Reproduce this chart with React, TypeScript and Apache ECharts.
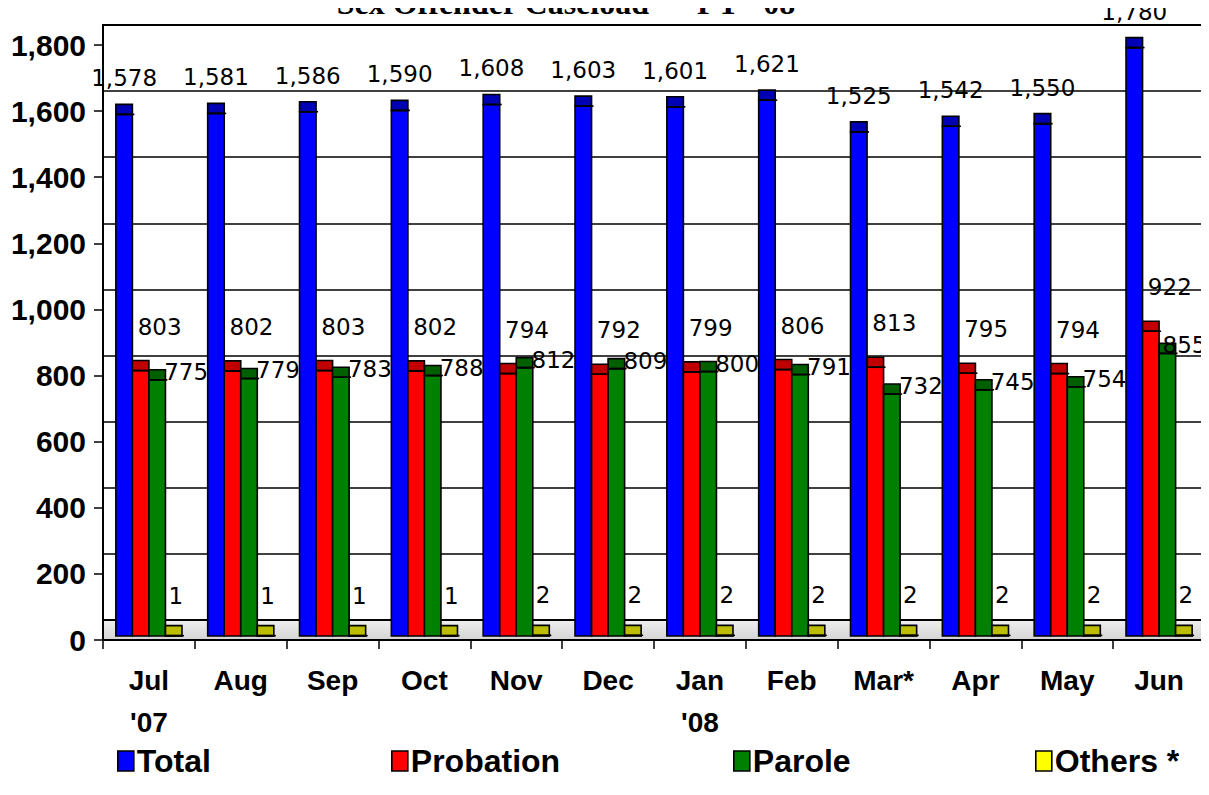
import React, { useEffect, useRef } from "react";
import * as echarts from "echarts";

const months = ["Jul\n'07", "Aug", "Sep", "Oct", "Nov", "Dec", "Jan\n'08", "Feb", "Mar*", "Apr", "May", "Jun"];
const totalVals = [1578, 1581, 1586, 1590, 1608, 1603, 1601, 1621, 1525, 1542, 1550, 1780];
const probationVals = [803, 802, 803, 802, 794, 792, 799, 806, 813, 795, 794, 922];
const paroleVals = [775, 779, 783, 788, 812, 809, 800, 791, 732, 745, 754, 855];
const othersVals = [1, 1, 1, 1, 2, 2, 2, 2, 2, 2, 2, 2];
const yTicks = { min: 0, max: 1800, interval: 200 };

const seriesDefs = [
  { name: "Total", values: totalVals, front: "#0000ff", cap: "#0000b4", legend: "#0000ff", dx: 0, dy: -26 },
  { name: "Probation", values: probationVals, front: "#ff0000", cap: "#c00000", legend: "#ff0000", dx: 19, dy: -34 },
  { name: "Parole", values: paroleVals, front: "#008000", cap: "#006000", legend: "#008000", dx: 29, dy: 2 },
  { name: "Others *", values: othersVals, front: "#ffff00", cap: "#bcbc00", legend: "#ffff00", dx: 2, dy: -30 },
];

const LABEL_FONT = "'DejaVu Sans', Verdana, sans-serif";
const AXIS_FONT = "'Liberation Sans', Arial, sans-serif";

export default function App() {
  const ref = useRef<HTMLDivElement>(null);
  useEffect(() => {
    if (!ref.current) return;
    const chart = echarts.init(ref.current, undefined, { renderer: "svg" });
    const series = seriesDefs.map((s, k) => ({
      type: "custom",
      name: s.name,
      xAxisIndex: 0,
      yAxisIndex: 0,
      itemStyle: { color: s.legend },
      encode: { x: 0, y: 1 },
      data: s.values.map((v, i) => [i, v]),
      z: 5,
      renderItem: (params: any, api: any) => {
        const ci = api.value(0);
        const v = api.value(1);
        const base = api.coord([ci, 0]);
        const top = api.coord([ci, v]);
        const band = api.size([1, 0])[0];
        const w = band * 0.18;
        const x0 = base[0] - 2 * w + k * w;
        const yb = base[1] - 4;
        const yt = top[1] - 4;
        const cap = 10;
        const txt = v.toLocaleString("en-US");
        const halfW = txt.length * 7.5;
        const lx = Math.min(x0 + w / 2 + s.dx, 1207 - halfW);
        return {
          type: "group",
          children: [
            {
              type: "rect",
              shape: { x: x0, y: yt, width: w, height: Math.max(yb - yt, 0) },
              style: { fill: s.front, stroke: "#000", lineWidth: 1.6 },
            },
            {
              type: "rect",
              shape: { x: x0, y: yt - cap, width: w, height: cap },
              style: { fill: s.cap, stroke: "#000", lineWidth: 1.6 },
            },
            {
              type: "line",
              shape: { x1: x0, y1: yt, x2: x0 + w + 2, y2: yt },
              style: { stroke: "#000", lineWidth: 1.6 },
            },
            {
              type: "text",
              x: lx,
              y: yt - cap + s.dy,
              style: {
                text: txt,
                fill: "#000",
                font: `23px ${LABEL_FONT}`,
                textAlign: "center",
                textVerticalAlign: "middle",
              },
            },
          ],
        };
      },
    }));

    const legendLefts = [117, 391, 733, 1035];
    const legends = seriesDefs.map((s, i) => ({
      data: [s.name],
      left: legendLefts[i],
      top: 745,
      padding: 0,
      itemWidth: 16,
      itemHeight: 20,
      itemGap: 3,
      icon: "rect",
      itemStyle: { borderColor: "#000", borderWidth: 1.6 },
      textStyle: { fontFamily: AXIS_FONT, fontWeight: "bold", fontSize: 32, color: "#000", padding: [0, 0, 0, -2] },
      selectedMode: false,
    }));

    chart.setOption({
      animation: false,
      backgroundColor: "#fff",
      graphic: [
        {
          type: "rect",
          shape: { x: 103, y: 621, width: 1102, height: 19 },
          style: {
            fill: new echarts.graphic.LinearGradient(0, 0, 0, 1, [
              { offset: 0, color: "#eeeeee" },
              { offset: 1, color: "#d4d4d4" },
            ]),
          },
          z: 1,
        },
        {
          type: "text",
          x: 566,
          y: 3,
          style: {
            text: "Sex Offender Caseload  –  FY  '08",
            font: "bold 32px 'Liberation Serif', 'Times New Roman', serif",
            fill: "#000",
            textAlign: "center",
            textVerticalAlign: "middle",
          },
          z: 10,
        },
      ],
      legend: legends,
      grid: [
        { left: 103, right: 4, top: 45, bottom: 155, containLabel: false },
        { left: 103, right: 3, top: 25, bottom: 175, show: true, borderColor: "#000", borderWidth: 2, backgroundColor: "transparent" },
      ],
      xAxis: [
        {
          type: "category",
          gridIndex: 0,
          data: months,
          boundaryGap: true,
          axisLine: { show: true, lineStyle: { color: "#000", width: 2 } },
          axisTick: { show: true, alignWithLabel: false, length: 9, lineStyle: { color: "#000", width: 1.5 } },
          axisLabel: {
            color: "#000",
            fontFamily: AXIS_FONT,
            fontWeight: "bold",
            fontSize: 28,
            lineHeight: 42,
            margin: 19,
            interval: 0,
          },
          z: 6,
        },
        { type: "category", gridIndex: 1, data: months, show: false },
      ],
      yAxis: [
        {
          type: "value",
          gridIndex: 0,
          min: yTicks.min,
          max: yTicks.max,
          interval: yTicks.interval,
          axisLine: { show: true, lineStyle: { color: "#000", width: 2 } },
          axisTick: { show: true, length: 9, lineStyle: { color: "#000", width: 1.5 } },
          splitLine: { show: false },
          axisLabel: {
            color: "#000",
            fontFamily: AXIS_FONT,
            fontWeight: "bold",
            fontSize: 30,
            margin: 17,
            formatter: (v: number) => v.toLocaleString("en-US"),
          },
          z: 6,
        },
        {
          type: "value",
          gridIndex: 1,
          min: yTicks.min,
          max: yTicks.max,
          interval: yTicks.interval,
          axisLine: { show: false },
          axisTick: { show: false },
          axisLabel: { show: false },
          splitLine: { show: true, lineStyle: { color: "#000", width: 1.6 } },
        },
      ],
      series,
    });
    return () => chart.dispose();
  }, []);
  return <div ref={ref} style={{ width: 1209, height: 795, margin: -8 }} />;
}
